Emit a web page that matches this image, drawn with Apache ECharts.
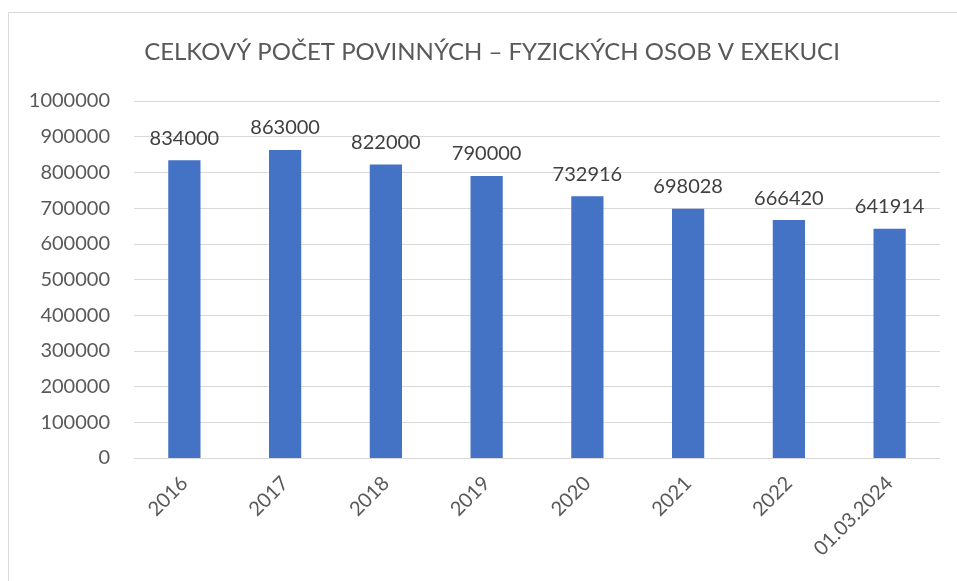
<!DOCTYPE html>
<html>
<head>
<meta charset="utf-8">
<script src="https://cdn.jsdelivr.net/npm/echarts@6/dist/echarts.min.js"></script>
<style>
html, body { margin: 0; padding: 0; background: #fff; }
#chart { width: 957px; height: 581px; }
</style>
</head>
<body>
<div id="chart"></div>
<script>
const categories = ['2016', '2017', '2018', '2019', '2020', '2021', '2022', '01.03.2024']
const values = [834000, 863000, 822000, 790000, 732916, 698028, 666420, 641914]

const FONT = 'Lato, "Noto Sans", sans-serif'

let Mycharts = echarts.init(document.getElementById('chart'))
let option = {
    animation: false,
    graphic: [{
        type: 'rect',
        shape: { x: 8.5, y: 12.5, width: 980, height: 620 },
        style: { fill: 'none', stroke: '#d9d9d9', lineWidth: 1 },
        silent: true
    }],
    title: {
        text: 'CELKOVÝ POČET POVINNÝCH – FYZICKÝCH OSOB V EXEKUCI',
        left: 487,
        top: 35,
        textAlign: 'center',
        textStyle: {
            color: '#595959',
            fontFamily: FONT,
            fontWeight: 'normal',
            fontSize: 24
        }
    },
    grid: {
        top: 101,
        left: 134,
        right: 17,
        bottom: 123,
        // containLabel: true
    },
    xAxis: [{
        type: 'category',
        data: categories,
        axisLine: {
            show: true,
            lineStyle: { color: '#d9d9d9', width: 1 }
        },
        axisTick: { show: false },
        axisLabel: {
            rotate: 45,
            margin: 22,
            color: '#595959',
            fontFamily: FONT,
            fontSize: 20
        },
        splitLine: { show: false }
    }],
    yAxis: [{
        type: 'value',
        min: 0,
        max: 1000000,
        interval: 100000,
        splitLine: {
            show: true,
            lineStyle: { color: '#d9d9d9', width: 1 }
        },
        axisLine: { show: false },
        axisTick: { show: false },
        axisLabel: {
            margin: 24,
            color: '#595959',
            fontFamily: FONT,
            fontSize: 20,
            formatter: (v) => String(v)
        }
    }],
    series: [{
        type: 'bar',
        barWidth: '32%',
        itemStyle: { color: '#4472c4' },
        label: {
            show: true,
            position: 'top',
            distance: 12,
            color: '#404040',
            fontFamily: FONT,
            fontSize: 20
        },
        data: values
    }]
}
Mycharts.setOption(option)
</script>
</body>
</html>
